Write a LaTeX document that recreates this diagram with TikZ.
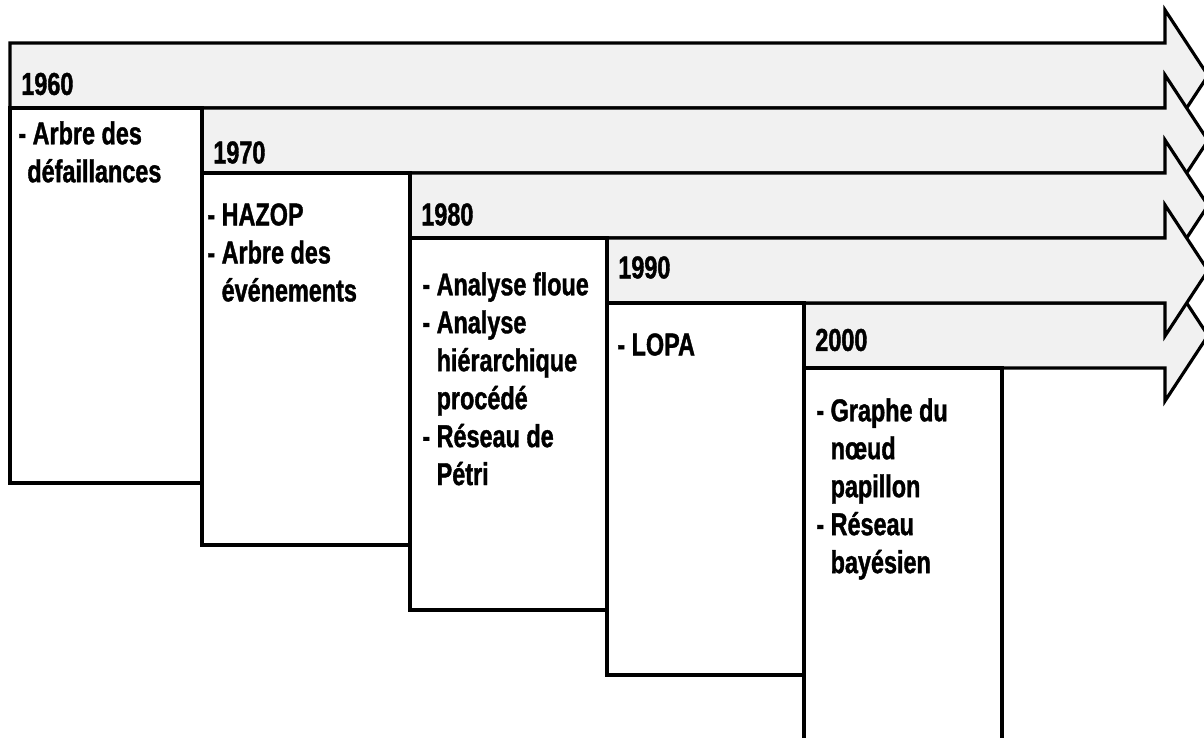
\documentclass[tikz,border=0pt]{standalone}
\usepackage{fontspec}
\setmainfont{Liberation Sans}[FakeStretch=0.74, BoldFeatures={FakeBold=1.2}]
\usetikzlibrary{positioning}
\definecolor{bandgray}{RGB}{241,241,241}
\newcommand{\ind}{\phantom{- }}

\begin{document}
\begin{tikzpicture}[
    band/.style={draw=black, line width=1.8pt, fill=bandgray, line join=miter},
    period/.style={draw=black, line width=1.8pt, fill=white},
    year/.style={anchor=west, inner sep=0pt, font=\fontsize{18}{21.6}\selectfont\bfseries},
    items/.style={anchor=north west, inner sep=0pt, align=left, font=\fontsize{18}{21.6}\selectfont\bfseries}]
    \useasboundingbox (0,0) rectangle (24.08,14.76);
    % time bands
    \draw[band] (0.20,13.90) -- (23.30,13.90) -- (23.30,14.56) -- (24.16,13.25) -- (23.30,11.94) -- (23.30,12.60) -- (0.20,12.60) -- cycle;
    \draw[band] (4.04,12.60) -- (23.30,12.60) -- (23.30,13.26) -- (24.16,11.95) -- (23.30,10.64) -- (23.30,11.30) -- (4.04,11.30) -- cycle;
    \draw[band] (8.20,11.30) -- (23.30,11.30) -- (23.30,11.96) -- (24.16,10.65) -- (23.30,9.34) -- (23.30,10.00) -- (8.20,10.00) -- cycle;
    \draw[band] (16.08,8.70) -- (23.30,8.70) -- (23.30,9.36) -- (24.16,8.05) -- (23.30,6.74) -- (23.30,7.40) -- (16.08,7.40) -- cycle;
    \draw[band] (12.14,10.00) -- (23.30,10.00) -- (23.30,10.66) -- (24.16,9.35) -- (23.30,8.04) -- (23.30,8.70) -- (12.14,8.70) -- cycle;
    % boxes
    \draw[period] (0.20,12.60) rectangle (4.04,5.10);
    \draw[period] (4.04,11.30) rectangle (8.20,3.86);
    \draw[period] (8.20,10.00) rectangle (12.14,2.56);
    \draw[period] (12.14,8.70) rectangle (16.08,1.26);
    \draw[period] (16.08,7.40) rectangle (20.04,-0.05);
    % years
    \node[year] (y1960) at (0.42,13.08) {1960};
    \node[year] (y1970) at (4.26,11.71) {1970};
    \node[year] (y1980) at (8.42,10.47) {1980};
    \node[year] (y1990) at (12.36,9.41) {1990};
    \node[year] (y2000) at (16.30,7.96) {2000};
    % methods
    \node[items] (m1960) at (0.36,12.34) {- Arbre des\\\hspace*{0.18cm}défaillances};
    \node[items] (m1970) at (4.14,10.70) {- HAZOP\\- Arbre des\\\ind événements};
    \node[items] (m1980) at (8.44,9.32) {- Analyse floue\\- Analyse\\\ind hiérarchique\\\ind procédé\\- Réseau de\\\ind Pétri};
    \node[items] (m1990) at (12.34,8.10) {- LOPA};
    \node[items] (m2000) at (16.32,6.80) {- Graphe du\\\ind nœud\\\ind papillon\\- Réseau\\\ind bayésien};
\end{tikzpicture}
\end{document}
